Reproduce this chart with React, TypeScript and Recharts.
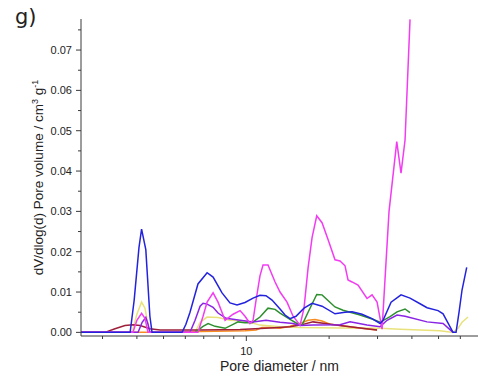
import { Line, LineChart, XAxis, YAxis } from "recharts";

const AXIS = "#3a3a3a";
const TEXT = "#222";

const X_DOMAIN = [2.505, 69.57];
const X_TICKS = [3, 4, 5, 6, 7, 8, 9, 10, 20, 30, 40, 50, 60];
const Y_DOMAIN = [-0.0009, 0.0777];
const Y_TICKS = [
  0, 0.005, 0.01, 0.015, 0.02, 0.025, 0.03, 0.035,
  0.04, 0.045, 0.05, 0.055, 0.06, 0.065, 0.07, 0.075,
];

// pore diameter (nm) / dV/dlog(d) for each sample
const BLUE_D = [2.5, 3.78, 3.91, 4.07, 4.16, 4.31, 4.46, 4.54, 5.84, 6.03, 6.24, 6.67, 7.2, 7.57, 8.16, 8.72, 9.25, 9.89, 10.58, 11.21, 11.79, 12.4, 13.26, 13.83, 14.42, 15.16, 16.21, 17.34, 18.85, 21.01, 22.85, 24.23, 26.34, 28.65, 30.64, 31.42, 33.6, 36.52, 39.38, 42.82, 45.41, 49.8, 51.93, 56.44, 57.89, 59.36, 60.86, 63.3];
const BLUE_V = [0, 0, 0.008, 0.021, 0.0256, 0.0205, 0.004, 0, 0, 0.002, 0.005, 0.012, 0.0148, 0.0137, 0.0098, 0.0073, 0.0068, 0.0074, 0.0085, 0.0092, 0.0091, 0.008, 0.0058, 0.0043, 0.0034, 0.004, 0.006, 0.0072, 0.0065, 0.0046, 0.005, 0.0051, 0.0045, 0.0034, 0.0022, 0.003, 0.0075, 0.0093, 0.0085, 0.0071, 0.0061, 0.0054, 0.0046, 0, 0, 0.005, 0.0105, 0.0161];

const MAGENTA_D = [2.5, 3.87, 4.0, 4.16, 4.28, 4.39, 6.67, 6.96, 7.2, 7.57, 7.89, 8.37, 8.95, 9.49, 9.89, 10.31, 10.58, 10.85, 11.21, 11.5, 11.99, 12.72, 13.26, 14.06, 14.79, 15.68, 16.21, 16.77, 17.34, 18.03, 18.85, 19.82, 21.01, 21.91, 22.85, 23.43, 24.23, 25.48, 27.47, 28.65, 29.88, 31.16, 33.03, 35.24, 36.52, 37.77, 39.38];
const MAGENTA_V = [0, 0, 0.003, 0.0047, 0.0035, 0, 0, 0.004, 0.0075, 0.0098, 0.0075, 0.003, 0.0045, 0.0054, 0.004, 0.0022, 0.003, 0.008, 0.014, 0.0167, 0.0167, 0.0125, 0.01, 0.0075, 0.004, 0.0018, 0.006, 0.016, 0.0235, 0.0289, 0.0272, 0.023, 0.018, 0.0177, 0.0165, 0.013, 0.0125, 0.0117, 0.0084, 0.0093, 0.0075, 0.0008, 0.03, 0.0473, 0.0395, 0.0477, 0.0776];

const PURPLE_D = [2.5, 4.04, 4.18, 4.31, 4.39, 4.46, 6.24, 6.51, 6.79, 6.96, 7.2, 7.57, 7.89, 8.44, 9.49, 10.58, 11.79, 13.26, 14.79, 15.68, 17.48, 21.91, 23.83, 27.47, 30.64, 32.49, 35.32, 37.77, 45.41, 51.93, 56.44];
const PURPLE_V = [0, 0, 0.0025, 0.0037, 0.002, 0, 0, 0.003, 0.0065, 0.0072, 0.007, 0.0062, 0.0048, 0.0035, 0.003, 0.0026, 0.003, 0.0025, 0.0022, 0.0017, 0.0018, 0.0019, 0.0026, 0.0018, 0.0014, 0.003, 0.0043, 0.004, 0.0026, 0.0022, 0];

const GREEN_D = [6.51, 6.96, 7.26, 7.7, 8.37, 8.95, 9.33, 9.89, 10.49, 11.21, 11.99, 12.72, 13.26, 14.42, 15.29, 15.94, 16.77, 18.03, 18.85, 21.01, 22.47, 25.92, 28.65, 30.64, 33.31, 35.32, 37.77, 39.38];
const GREEN_V = [0, 0.0015, 0.0022, 0.0015, 0.001, 0.002, 0.0026, 0.0024, 0.0024, 0.0038, 0.006, 0.0057, 0.0048, 0.0032, 0.0022, 0.0018, 0.005, 0.0094, 0.0093, 0.0063, 0.0055, 0.0043, 0.0033, 0.0025, 0.0039, 0.0051, 0.0058, 0.0049];

const YELLOW_D = [2.5, 3.84, 4.0, 4.16, 4.28, 4.39, 4.46, 6.51, 6.79, 7.2, 7.89, 8.72, 9.89, 11.21, 13.26, 15.68, 21.91, 30.64, 36.22, 50.62, 56.44, 58.87, 60.86, 64.01];
const YELLOW_V = [0, 0, 0.0045, 0.0075, 0.006, 0.002, 0, 0, 0.0025, 0.0038, 0.0037, 0.003, 0.0028, 0.0018, 0.0014, 0.0012, 0.0011, 0.001, 0.0008, 0.0004, 0, 0.001, 0.0025, 0.0038];

const ORANGE_D = [2.5, 4.86, 6.79, 9.89, 10.85, 11.4, 12.2, 13.26, 14.42, 15.68, 16.77, 17.78, 18.85, 20.16, 23.83, 27.02, 29.88];
const ORANGE_V = [0, 0, 0.0002, 0.0004, 0.0006, 0.0012, 0.0012, 0.001, 0.0015, 0.0022, 0.003, 0.0032, 0.0028, 0.002, 0.0014, 0.0009, 0.0006];

const MAROON_D = [2.5, 3.06, 3.33, 3.62, 3.87, 4.11, 4.46, 4.86, 6.79, 9.49, 12.2, 14.42, 15.68, 17.48, 19.33, 21.91, 25.92, 29.88];
const MAROON_V = [0, 0, 0.0009, 0.0017, 0.0019, 0.0017, 0.0009, 0.0006, 0.0006, 0.0007, 0.0011, 0.0014, 0.0018, 0.0026, 0.0022, 0.0017, 0.0011, 0.0006];

const toPoints = (ds: number[], vs: number[]) => ds.map((d, i) => ({ d, v: vs[i] }));

// drawn in this order, last on top
const SERIES = [
  { name: "yellow", color: "#e9e27c", data: toPoints(YELLOW_D, YELLOW_V) },
  { name: "orange", color: "#f78c20", data: toPoints(ORANGE_D, ORANGE_V) },
  { name: "maroon", color: "#9e1f3a", data: toPoints(MAROON_D, MAROON_V) },
  { name: "green", color: "#2e8f2e", data: toPoints(GREEN_D, GREEN_V) },
  { name: "purple", color: "#8a24e4", data: toPoints(PURPLE_D, PURPLE_V) },
  { name: "magenta", color: "#f23cf2", data: toPoints(MAGENTA_D, MAGENTA_V) },
  { name: "blue", color: "#2323de", data: toPoints(BLUE_D, BLUE_V) },
];

const isMajorY = (v: number) => Math.round(v * 1000) % 10 === 0;

function BottomTick({ x, y, payload }: any) {
  const major = payload.value === 10;
  return (
    <g>
      <line x1={x} x2={x} y1={y} y2={y + (major ? 5 : 3)} stroke={AXIS} />
      {major && (
        <text x={x} y={y + 18.5} textAnchor="middle" fontSize={11} fill={TEXT}>
          10
        </text>
      )}
    </g>
  );
}

function TopTick({ x, y, payload }: any) {
  const major = payload.value === 10;
  return <line x1={x} x2={x} y1={y} y2={y + (major ? 5 : 3)} stroke={AXIS} />;
}

function LeftTick({ x, y, payload }: any) {
  const major = isMajorY(payload.value);
  return (
    <g>
      <line x1={x - (major ? 5 : 3)} x2={x} y1={y} y2={y} stroke={AXIS} />
      {major && (
        <text x={x - 9} y={y + 4} textAnchor="end" fontSize={11} fill={TEXT}>
          {payload.value.toFixed(2)}
        </text>
      )}
    </g>
  );
}

function RightTick({ x, y, payload }: any) {
  const major = isMajorY(payload.value);
  return <line x1={x - (major ? 5 : 3)} x2={x} y1={y} y2={y} stroke={AXIS} />;
}

function YTitle(props: any) {
  const vb = props.viewBox || {};
  const cx = 43;
  const cy = vb.height ? vb.y + vb.height / 2 : 177.5;
  return (
    <text
      x={cx}
      y={cy}
      transform={`rotate(-90 ${cx} ${cy})`}
      textAnchor="middle"
      fontSize={13.5}
      fill={TEXT}
    >
      dV/dlog(d) Pore volume / cm
      <tspan dy={-5} fontSize={9}>3</tspan>
      <tspan dy={5}> g</tspan>
      <tspan dy={-5} fontSize={9}>-1</tspan>
    </text>
  );
}

export default function App() {
  return (
    <div
      style={{
        position: "relative",
        width: 478,
        height: 380,
        fontFamily: "'Liberation Sans', Arial, sans-serif",
        background: "#fff",
      }}
    >
      <style>{"body{margin:0}"}</style>
      <LineChart width={478} height={380} margin={{ top: 19, right: 0, bottom: 0, left: 0 }}>
        <XAxis
          xAxisId="b"
          type="number"
          dataKey="d"
          scale="log"
          domain={X_DOMAIN}
          allowDataOverflow
          ticks={X_TICKS}
          interval={0}
          height={44}
          tickSize={0}
          tickMargin={0}
          tickLine={false}
          tick={BottomTick}
          axisLine={{ stroke: AXIS }}
          label={{
            value: "Pore diameter / nm",
            position: "insideBottom",
            offset: 9,
            fontSize: 14,
            fill: TEXT,
          }}
        />
        <XAxis
          xAxisId="t"
          orientation="top"
          type="number"
          dataKey="d"
          scale="log"
          domain={X_DOMAIN}
          allowDataOverflow
          ticks={X_TICKS}
          interval={0}
          height={0}
          tickSize={0}
          tickMargin={0}
          tickLine={false}
          tick={TopTick}
          axisLine={{ stroke: AXIS }}
        />
        <YAxis
          yAxisId="l"
          type="number"
          domain={Y_DOMAIN}
          allowDataOverflow
          ticks={Y_TICKS}
          interval={0}
          width={81}
          tickSize={0}
          tickMargin={0}
          tickLine={false}
          tick={LeftTick}
          axisLine={{ stroke: AXIS }}
          label={<YTitle />}
        />
        <YAxis
          yAxisId="r"
          orientation="right"
          type="number"
          domain={Y_DOMAIN}
          allowDataOverflow
          ticks={Y_TICKS}
          interval={0}
          width={0}
          tickSize={0}
          tickMargin={0}
          tickLine={false}
          tick={RightTick}
          axisLine={{ stroke: AXIS }}
        />
        {SERIES.map((s) => (
          <Line
            key={s.name}
            xAxisId="b"
            yAxisId="l"
            data={s.data}
            dataKey="v"
            type="linear"
            stroke={s.color}
            strokeWidth={1.5}
            dot={false}
            activeDot={false}
            isAnimationActive={false}
          />
        ))}
      </LineChart>
      <svg
        width={60}
        height={40}
        style={{ position: "absolute", left: 0, top: 0, pointerEvents: "none" }}
      >
        <text x={15} y={24} fontSize={21} fontFamily="'DejaVu Sans', sans-serif" fill={TEXT}>
          g)
        </text>
      </svg>
    </div>
  );
}
